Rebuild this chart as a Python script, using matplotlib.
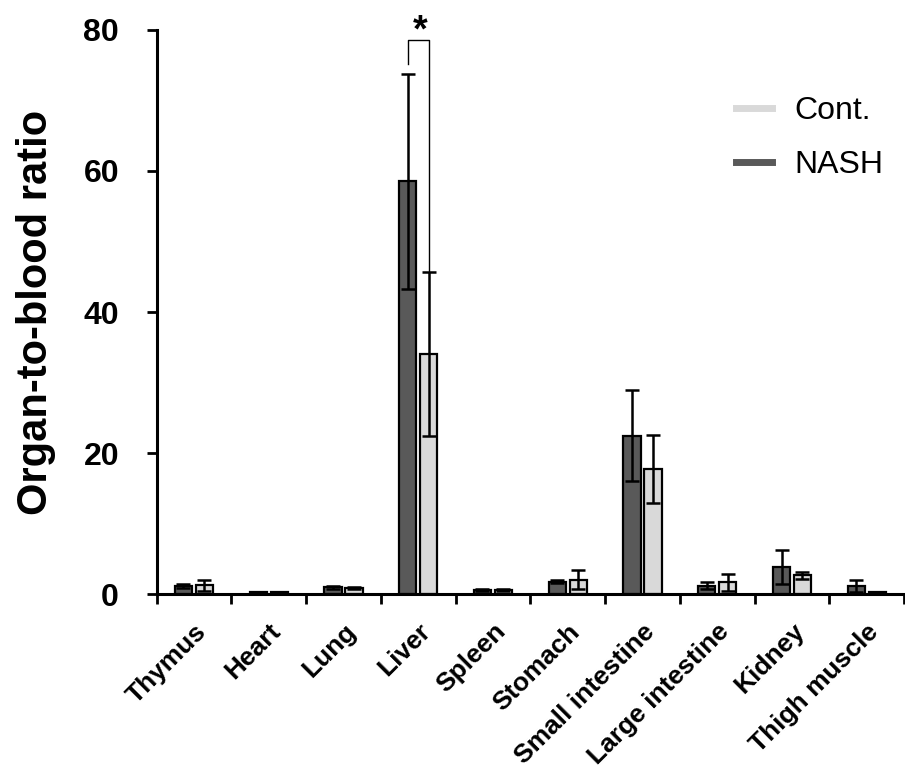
import matplotlib
matplotlib.use("Agg")
import matplotlib.pyplot as plt
import numpy as np
from matplotlib.lines import Line2D

plt.rcParams["font.family"] = ["Liberation Sans", "DejaVu Sans"]

organs = ["Thymus", "Heart", "Lung", "Liver", "Spleen", "Stomach",
          "Small intestine", "Large intestine", "Kidney", "Thigh muscle"]
nash_mean = [1.2, 0.3, 1.0, 58.5, 0.6, 1.8, 22.5, 1.2, 3.9, 1.2]
nash_err = [0.3, 0.1, 0.2, 15.2, 0.1, 0.2, 6.4, 0.5, 2.4, 0.9]
cont_mean = [1.3, 0.3, 0.9, 34.0, 0.6, 2.1, 17.8, 1.7, 2.7, 0.3]
cont_err = [0.8, 0.1, 0.1, 11.6, 0.1, 1.4, 4.8, 1.2, 0.5, 0.1]

DARK = "#595959"
LIGHT = "#d9d9d9"

fig = plt.figure(figsize=(9.05, 7.81), dpi=100)
ax = fig.add_axes([0.173, 0.239, 0.826, 0.723])

x = np.arange(len(organs))
w = 0.23
off = 0.14
ekw = dict(elinewidth=1.8, capthick=1.8, ecolor="black")
ax.bar(x - off, nash_mean, w, color=DARK, edgecolor="black", lw=1.6,
       yerr=nash_err, capsize=5, error_kw=ekw, zorder=2)
ax.bar(x + off, cont_mean, w, color=LIGHT, edgecolor="black", lw=1.6,
       yerr=cont_err, capsize=5, error_kw=ekw, zorder=2)

# significance bracket on liver
li = organs.index("Liver")
top = 78.6
ax.plot([li - off, li - off, li + off, li + off],
        [nash_mean[li] + nash_err[li] + 1.5, top, top, cont_mean[li] + cont_err[li]],
        color="black", lw=1.0, clip_on=False)
ax.text(li + 0.02, 82.3, "*", ha="center", va="top", fontsize=27,
        fontweight="bold", clip_on=False)

ax.set_xlim(-0.5, len(organs) - 0.5)
ax.set_ylim(0, 80)
ax.set_yticks([0, 20, 40, 60, 80])
ax.tick_params(axis="y", labelsize=23, width=2, length=7, pad=20, direction="out")
for t in ax.get_yticklabels():
    t.set_fontweight("bold")

ax.set_xticks(x)
ax.set_xticklabels(organs, rotation=45, ha="right", rotation_mode="anchor",
                   fontsize=19, fontweight="bold")
ax.tick_params(axis="x", which="major", length=0, pad=18)
ax.set_xticks(np.arange(-0.5, len(organs)), minor=True)
ax.tick_params(axis="x", which="minor", length=7, width=2, direction="out")

for s in ["top", "right"]:
    ax.spines[s].set_visible(False)
for s in ["left", "bottom"]:
    ax.spines[s].set_linewidth(2.2)

ax.set_ylabel("Organ-to-blood ratio", fontsize=30, fontweight="bold", labelpad=20)

handles = [Line2D([0], [0], color=LIGHT, lw=5),
           Line2D([0], [0], color=DARK, lw=5)]
ax.legend(handles, ["Cont.", "NASH"], frameon=False, fontsize=23,
          loc="upper right", bbox_to_anchor=(0.99, 0.905), handlelength=1.15,
          handletextpad=0.7, labelspacing=0.75, borderaxespad=0)

fig.savefig("out.png", dpi=100, facecolor="white")
